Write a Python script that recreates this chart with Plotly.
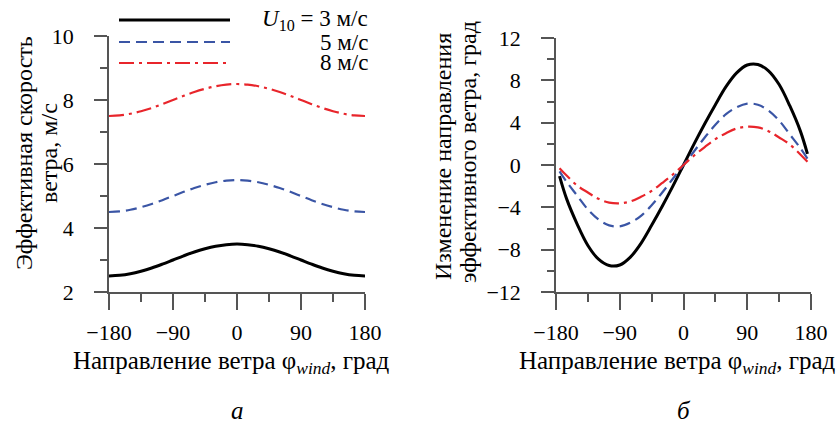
import plotly.graph_objects as go

# ---------------- data ----------------
phi_a = [-180, -165, -150, -135, -120, -105, -90, -75, -60, -45, -30, -15, 0,
         15, 30, 45, 60, 75, 90, 105, 120, 135, 150, 165, 180]
speed_3 = [2.50, 2.52, 2.57, 2.65, 2.75, 2.87, 3.00, 3.13, 3.25, 3.35, 3.43, 3.48, 3.50,
           3.48, 3.43, 3.35, 3.25, 3.13, 3.00, 2.87, 2.75, 2.65, 2.57, 2.52, 2.50]
speed_5 = [4.50, 4.52, 4.57, 4.65, 4.75, 4.87, 5.00, 5.13, 5.25, 5.35, 5.43, 5.48, 5.50,
           5.48, 5.43, 5.35, 5.25, 5.13, 5.00, 4.87, 4.75, 4.65, 4.57, 4.52, 4.50]
speed_8 = [7.50, 7.52, 7.57, 7.65, 7.75, 7.87, 8.00, 8.13, 8.25, 8.35, 8.43, 8.48, 8.50,
           8.48, 8.43, 8.35, 8.25, 8.13, 8.00, 7.87, 7.75, 7.65, 7.57, 7.52, 7.50]

phi_b = [-175, -165, -150, -135, -120, -105, -90, -75, -60, -45, -30, -15, 0,
         15, 30, 45, 60, 75, 90, 105, 120, 135, 150, 165, 175]
dir_3 = [-1.05, -3.2, -5.6, -7.6, -8.9, -9.5, -9.45, -8.7, -7.4, -5.7, -3.9, -2.0, 0.0,
         2.0, 3.9, 5.7, 7.4, 8.7, 9.45, 9.5, 8.9, 7.6, 5.6, 3.2, 1.05]
dir_5 = [-0.6, -1.6, -2.9, -4.2, -5.15, -5.7, -5.8, -5.45, -4.8, -3.8, -2.6, -1.3, 0.0,
         1.3, 2.6, 3.8, 4.8, 5.45, 5.8, 5.7, 5.15, 4.2, 2.9, 1.6, 0.6]
dir_8 = [-0.3, -1.0, -1.95, -2.6, -3.2, -3.55, -3.62, -3.45, -3.0, -2.45, -1.7, -0.9, 0.0,
         0.9, 1.7, 2.45, 3.0, 3.45, 3.62, 3.55, 3.2, 2.6, 1.95, 1.0, 0.3]

x_ticks = [-180, -90, 0, 90, 180]
x_minor = [-135, -45, 45, 135]
ya_ticks = [2, 4, 6, 8, 10]
yb_ticks = [-12, -8, -4, 0, 4, 8, 12]
legend_labels = ["<i>U</i><sub>10</sub> = 3 м/с", "5 м/с", "8 м/с"]

# ---------------- styles ----------------
W, H = 836, 425
FONT = "Liberation Serif, Times New Roman, serif"
FS_TICK = 22
FS_TEXT = 25
FS_LEG = 23
FS_YT = 24
AX = "#555555"
BLACK, BLUE, RED = "#000000", "#3a55a5", "#e8252b"
styles = [
    dict(color=BLACK, width=3, dash="solid"),
    dict(color=BLUE, width=2.2, dash="11px,6px"),
    dict(color=RED, width=2.2, dash="15px,5px,3px,5px"),
]

def px(x):
    return x / W

def py(y):
    return 1 - y / H

fig = go.Figure()
for ys, st in zip([speed_3, speed_5, speed_8], styles):
    fig.add_trace(go.Scatter(x=phi_a, y=ys, mode="lines", line=dict(shape="spline", **st),
                             xaxis="x", yaxis="y", showlegend=False, hoverinfo="skip"))
for ys, st in zip([dir_3, dir_5, dir_8], styles):
    fig.add_trace(go.Scatter(x=phi_b, y=ys, mode="lines", line=dict(shape="spline", **st),
                             xaxis="x2", yaxis="y2", showlegend=False, hoverinfo="skip"))

common_x = dict(range=[-180, 180], tickmode="array", tickvals=x_ticks, automargin=False,
                ticks="outside", ticklen=16, tickwidth=1.5, tickcolor=AX,
                showline=True, linecolor=AX, linewidth=1.5, showgrid=False, zeroline=False,
                ticklabelstandoff=4,
                minor=dict(tickmode="array", tickvals=x_minor, ticks="outside",
                           ticklen=8, tickwidth=1.5, tickcolor=AX),
                tickfont=dict(family=FONT, size=FS_TICK, color="black"))
common_y = dict(ticks="outside", ticklen=13, tickwidth=1.5, tickcolor=AX, automargin=False,
                showline=True, linecolor=AX, linewidth=1.5, showgrid=False, zeroline=False,
                ticklabelstandoff=16,
                tickfont=dict(family=FONT, size=FS_TICK, color="black"))

fig.update_layout(
    width=W, height=H,
    margin=dict(l=0, r=0, t=0, b=0, autoexpand=False),
    paper_bgcolor="white", plot_bgcolor="white",
    font=dict(family=FONT, size=FS_TEXT, color="black"),
    xaxis=dict(domain=[px(109), px(365)], anchor="y", **common_x),
    yaxis=dict(domain=[py(292), py(36)], anchor="x", range=[2, 10], tickmode="array",
               tickvals=ya_ticks,
               minor=dict(dtick=1, tick0=2, ticks="outside", ticklen=7, tickwidth=1.5, tickcolor=AX),
               **common_y),
    xaxis2=dict(domain=[px(556), px(811)], anchor="y2", **common_x),
    yaxis2=dict(domain=[py(292), py(38)], anchor="x2", range=[-12, 12], tickmode="array",
                tickvals=yb_ticks,
                minor=dict(dtick=2, tick0=0, ticks="outside", ticklen=7, tickwidth=1.5, tickcolor=AX),
                **common_y),
)

# legend samples
leg_y = [20, 42, 63]
for yy, st, lab in zip(leg_y, styles, legend_labels):
    fig.add_shape(type="line", xref="paper", yref="paper", x0=px(119), x1=px(230),
                  y0=py(yy), y1=py(yy), line=st)
    fig.add_annotation(xref="paper", yref="paper", x=px(370), y=py(yy), text=lab,
                       showarrow=False, xanchor="right", yanchor="middle",
                       font=dict(family=FONT, size=FS_LEG, color="black"))

# axis titles and panel letters
xt = "Направление ветра φ<sub><i>wind</i></sub>, град"
for xc in (231, 677):
    fig.add_annotation(xref="paper", yref="paper", x=px(xc), y=py(362), text=xt,
                       showarrow=False, xanchor="center", yanchor="middle")

ytitles = [
    ("Эффективная скорость", 24, 153),
    ("ветра, м/с", 49, 153),
    ("Изменение направления", 443, 156),
    ("эффективного ветра, град", 468, 152),
]
for txt, xc, yc in ytitles:
    fig.add_annotation(xref="paper", yref="paper", x=px(xc), y=py(yc), text=txt,
                       textangle=-90, showarrow=False, xanchor="center", yanchor="middle",
                       font=dict(family=FONT, size=FS_YT, color="black"))

fig.add_annotation(xref="paper", yref="paper", x=px(237), y=py(410), text="<i>а</i>",
                   showarrow=False, xanchor="center", yanchor="middle")
fig.add_annotation(xref="paper", yref="paper", x=px(684), y=py(410), text="<i>б</i>",
                   showarrow=False, xanchor="center", yanchor="middle")

fig.write_html("out.html", config={"displayModeBar": False},
               post_script="document.body.style.margin='0';")
